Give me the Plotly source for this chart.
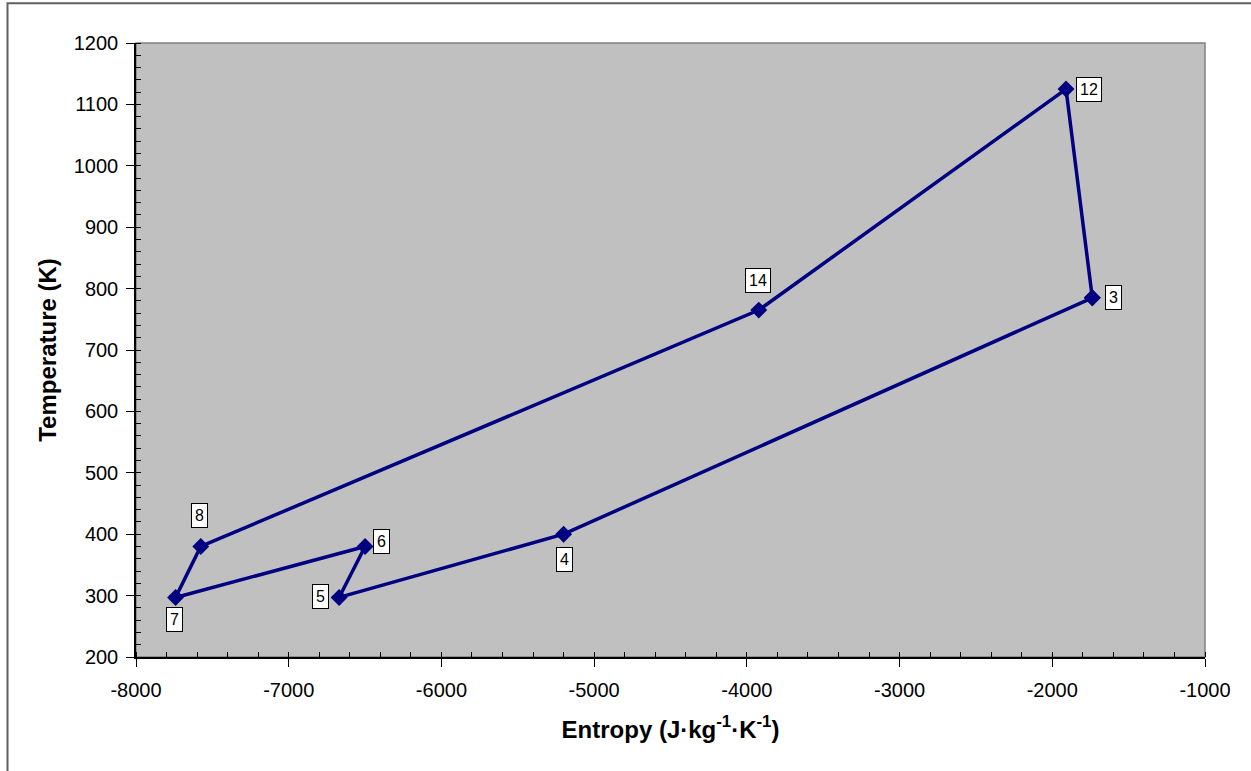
import plotly.graph_objects as go

# State points of the cycle, in path order (closed loop back to point 3)
state_labels = ["3", "4", "5", "6", "7", "8", "14", "12"]
entropy = [-1738, -5200, -6670, -6500, -7741, -7576, -3922, -1910]
temperature = [785, 400, 297, 380, 297, 380, 765, 1125]

# Axis tick values and their printed labels (plain hyphen minus)
x_ticks = [-8000, -7000, -6000, -5000, -4000, -3000, -2000, -1000]
x_ticktext = ["-8000", "-7000", "-6000", "-5000", "-4000", "-3000", "-2000", "-1000"]
y_ticks = [200, 300, 400, 500, 600, 700, 800, 900, 1000, 1100, 1200]

# Label offsets (pixels) relative to each state point
label_dx = [21, 1, -19, 16, -1, -1, -1, 23]
label_dy = [0, -25, 1, 5, -22, 31, 30, 0]

x_closed = entropy + [entropy[0]]
y_closed = temperature + [temperature[0]]

navy = "#000080"
font_family = "Arial, Liberation Sans, sans-serif"

fig = go.Figure()
fig.add_trace(go.Scatter(
    x=x_closed, y=y_closed,
    mode="lines+markers",
    line=dict(color=navy, width=3.5),
    marker=dict(symbol="diamond", size=13, color=navy),
    showlegend=False,
    hoverinfo="skip",
))

for lab, xv, yv, dx, dy in zip(state_labels, entropy, temperature, label_dx, label_dy):
    fig.add_annotation(
        x=xv, y=yv, xref="x", yref="y",
        text=lab, showarrow=False,
        xshift=dx, yshift=dy,
        font=dict(family=font_family, size=16, color="black"),
        bgcolor="white", bordercolor="black", borderwidth=1, borderpad=3,
    )

# Grey frame on the plot area (top/right), axis lines in black on top
fig.add_shape(type="rect", xref="paper", yref="paper", x0=0, x1=1, y0=0, y1=1,
              line=dict(color="#808080", width=1.5), layer="below")
# Outer chart border
fig.add_shape(type="rect", xref="paper", yref="paper",
              x0=-0.1202, x1=1.2, y0=-0.5, y1=1.0647,
              line=dict(color="#606060", width=2))

axis_common = dict(
    showgrid=False, zeroline=False,
    showline=True, linecolor="black", linewidth=1.5,
    ticks="outside", ticklen=8, tickwidth=1, tickcolor="black",
    tickfont=dict(family=font_family, size=20, color="black"),
)

fig.update_xaxes(
    range=[-8000, -1000], tickvals=x_ticks, ticktext=x_ticktext,
    minor=dict(dtick=200, tick0=-8000, ticks="inside", ticklen=5, tickcolor="black", tickwidth=1),
    title=dict(text="<b>Entropy (J·kg<sup>-1</sup>·K<sup>-1</sup>)</b>",
               font=dict(family=font_family, size=24, color="black"), standoff=21),
    ticklabelstandoff=6,
    **axis_common,
)
fig.update_yaxes(
    range=[200, 1200], tickvals=y_ticks,
    minor=dict(dtick=20, tick0=200, ticks="inside", ticklen=5, tickcolor="black", tickwidth=1),
    title=dict(text="<b>Temperature (K)</b>",
               font=dict(family=font_family, size=24, color="black"), standoff=10),
    ticklabelstandoff=4,
    **axis_common,
)

fig.update_layout(
    width=1251, height=771,
    margin=dict(l=135.5, r=46.3, t=42.7, b=114.3),
    plot_bgcolor="#C0C0C0",
    paper_bgcolor="white",
    font=dict(family=font_family),
)

fig.write_html("out.html")
